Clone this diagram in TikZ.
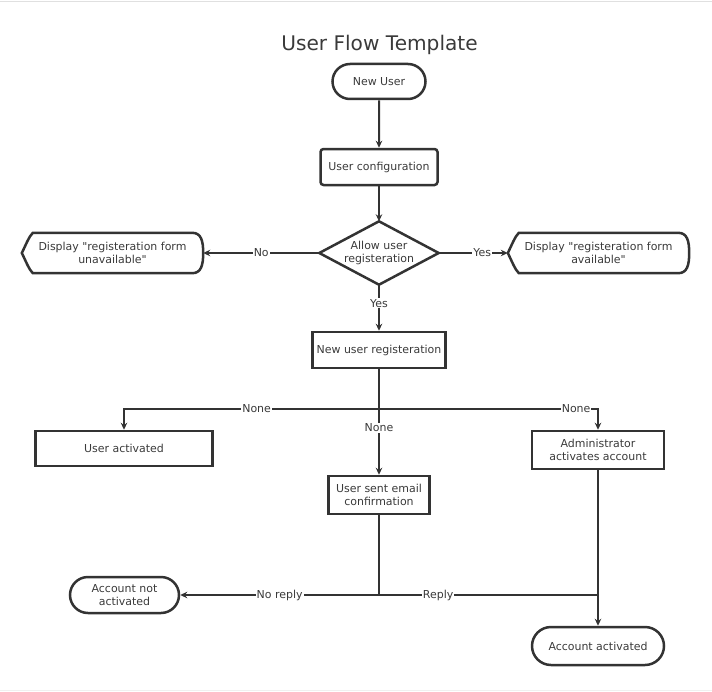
\documentclass[tikz,border=0pt]{standalone}
\usepackage{fontspec}
\setmainfont{DejaVu Sans}
\usetikzlibrary{arrows.meta,shapes.misc,calc}
\definecolor{ink}{HTML}{333333}
\definecolor{txt}{HTML}{3A3A3A}
\newcommand\mydisp[1]{%
  \draw[ink, line width=2.5bp]
    (#1.west) .. controls ($(#1.west)+(4,-8)$) and ($(#1.north west)+(7,4)$) .. ($(#1.north west)+(11,0)$)
    -- ($(#1.north east)+(-11,0)$)
    .. controls ($(#1.north east)+(-2,0)$) and ($(#1.east)+(0,-12)$) .. (#1.east)
    .. controls ($(#1.east)+(0,12)$) and ($(#1.south east)+(-2,0)$) .. ($(#1.south east)+(-11,0)$)
    -- ($(#1.south west)+(11,0)$)
    .. controls ($(#1.south west)+(7,-4)$) and ($(#1.west)+(4,8)$) .. cycle;}
\begin{document}
\begin{tikzpicture}[x=1bp,y=-1bp,
  every node/.style={font=\fontsize{11}{13.5}\selectfont, text=txt},
  box/.style={draw=ink, line width=2.5bp, rectangle, align=center, inner sep=0pt},
  term/.style={draw=ink, line width=2.5bp, rounded rectangle, align=center, inner sep=0pt},
  plain/.style={align=center, inner sep=0pt},
  conn/.style={draw=ink, line width=2bp, -{Stealth[length=7bp,width=6.5bp]}},
  wire/.style={draw=ink, line width=2bp},
  lbl/.style={fill=white, inner sep=1pt}
]
\useasboundingbox (0,0) rectangle (712,692);
\draw[black!12, line width=1bp] (0,1.5) -- (712,1.5);
\draw[black!6, line width=1bp] (0,690.5) -- (712,690.5);

\node[font=\fontsize{20.2}{24}\selectfont] (title) at (379.5,45) {User Flow Template};

\node[term, minimum width=93bp, minimum height=35bp] (nu) at (379,81.5) {New User};
\node[box, rounded corners=3bp, minimum width=117bp, minimum height=36bp] (uc) at (379,167) {User configuration};
\node[plain, minimum width=119bp, minimum height=63bp] (dec) at (379,253) {Allow user\\registeration};
\draw[ink, line width=2.5bp] (dec.west) -- (dec.north) -- (dec.east) -- (dec.south) -- cycle;

\node[plain, minimum width=181bp, minimum height=40bp] (dl) at (112.5,253) {Display \textquotedbl registeration form\\unavailable\textquotedbl};
\mydisp{dl}
\node[plain, minimum width=181bp, minimum height=40bp] (dr) at (598.5,253) {Display \textquotedbl registeration form\\available\textquotedbl};
\mydisp{dr}

\node[box, minimum width=133bp, minimum height=36bp] (reg) at (379,350) {New user registeration};
\node[box, minimum width=177bp, minimum height=35bp] (ua) at (124,448.5) {User activated};
\node[box, minimum width=132bp, minimum height=38bp] (adm) at (598,450) {Administrator\\activates account};
\node[box, minimum width=101bp, minimum height=38bp] (em) at (379,495) {User sent email\\confirmation};
\node[term, minimum width=109bp, minimum height=36bp] (ana) at (124.5,595) {Account not\\activated};
\node[term, minimum width=132bp, minimum height=38bp] (aa) at (598,646) {Account activated};

\coordinate (j1) at (379,409);
\coordinate (j2) at (379,595);
\coordinate (j3) at (598,595);

\draw[conn] (nu) -- (uc);
\draw[conn] (uc) -- (dec.north);
\draw[conn] (dec.west) -- node[lbl]{No} (dl.east);
\draw[conn] (dec.east) -- node[lbl,pos=0.63]{Yes} (dr.west);
\draw[conn] (dec.south) -- node[lbl,pos=0.4]{Yes} (reg.north);
\draw[wire] (reg.south) -- (j1);
\draw[conn] (j1) -| node[lbl,pos=0.24]{None} (ua.north);
\draw[conn] (j1) -| node[lbl,pos=0.45]{None} (adm.north);
\draw[conn] (j1) -- node[lbl,pos=0.29]{None} (em.north);
\draw[wire] (em.south) -- (j2);
\draw[conn] (j2) -- node[lbl]{No reply} (ana.east);
\draw[wire] (j2) -- node[lbl,pos=0.27]{Reply} (j3);
\draw[conn] (adm.south) -- (aa.north);
\end{tikzpicture}
\end{document}
